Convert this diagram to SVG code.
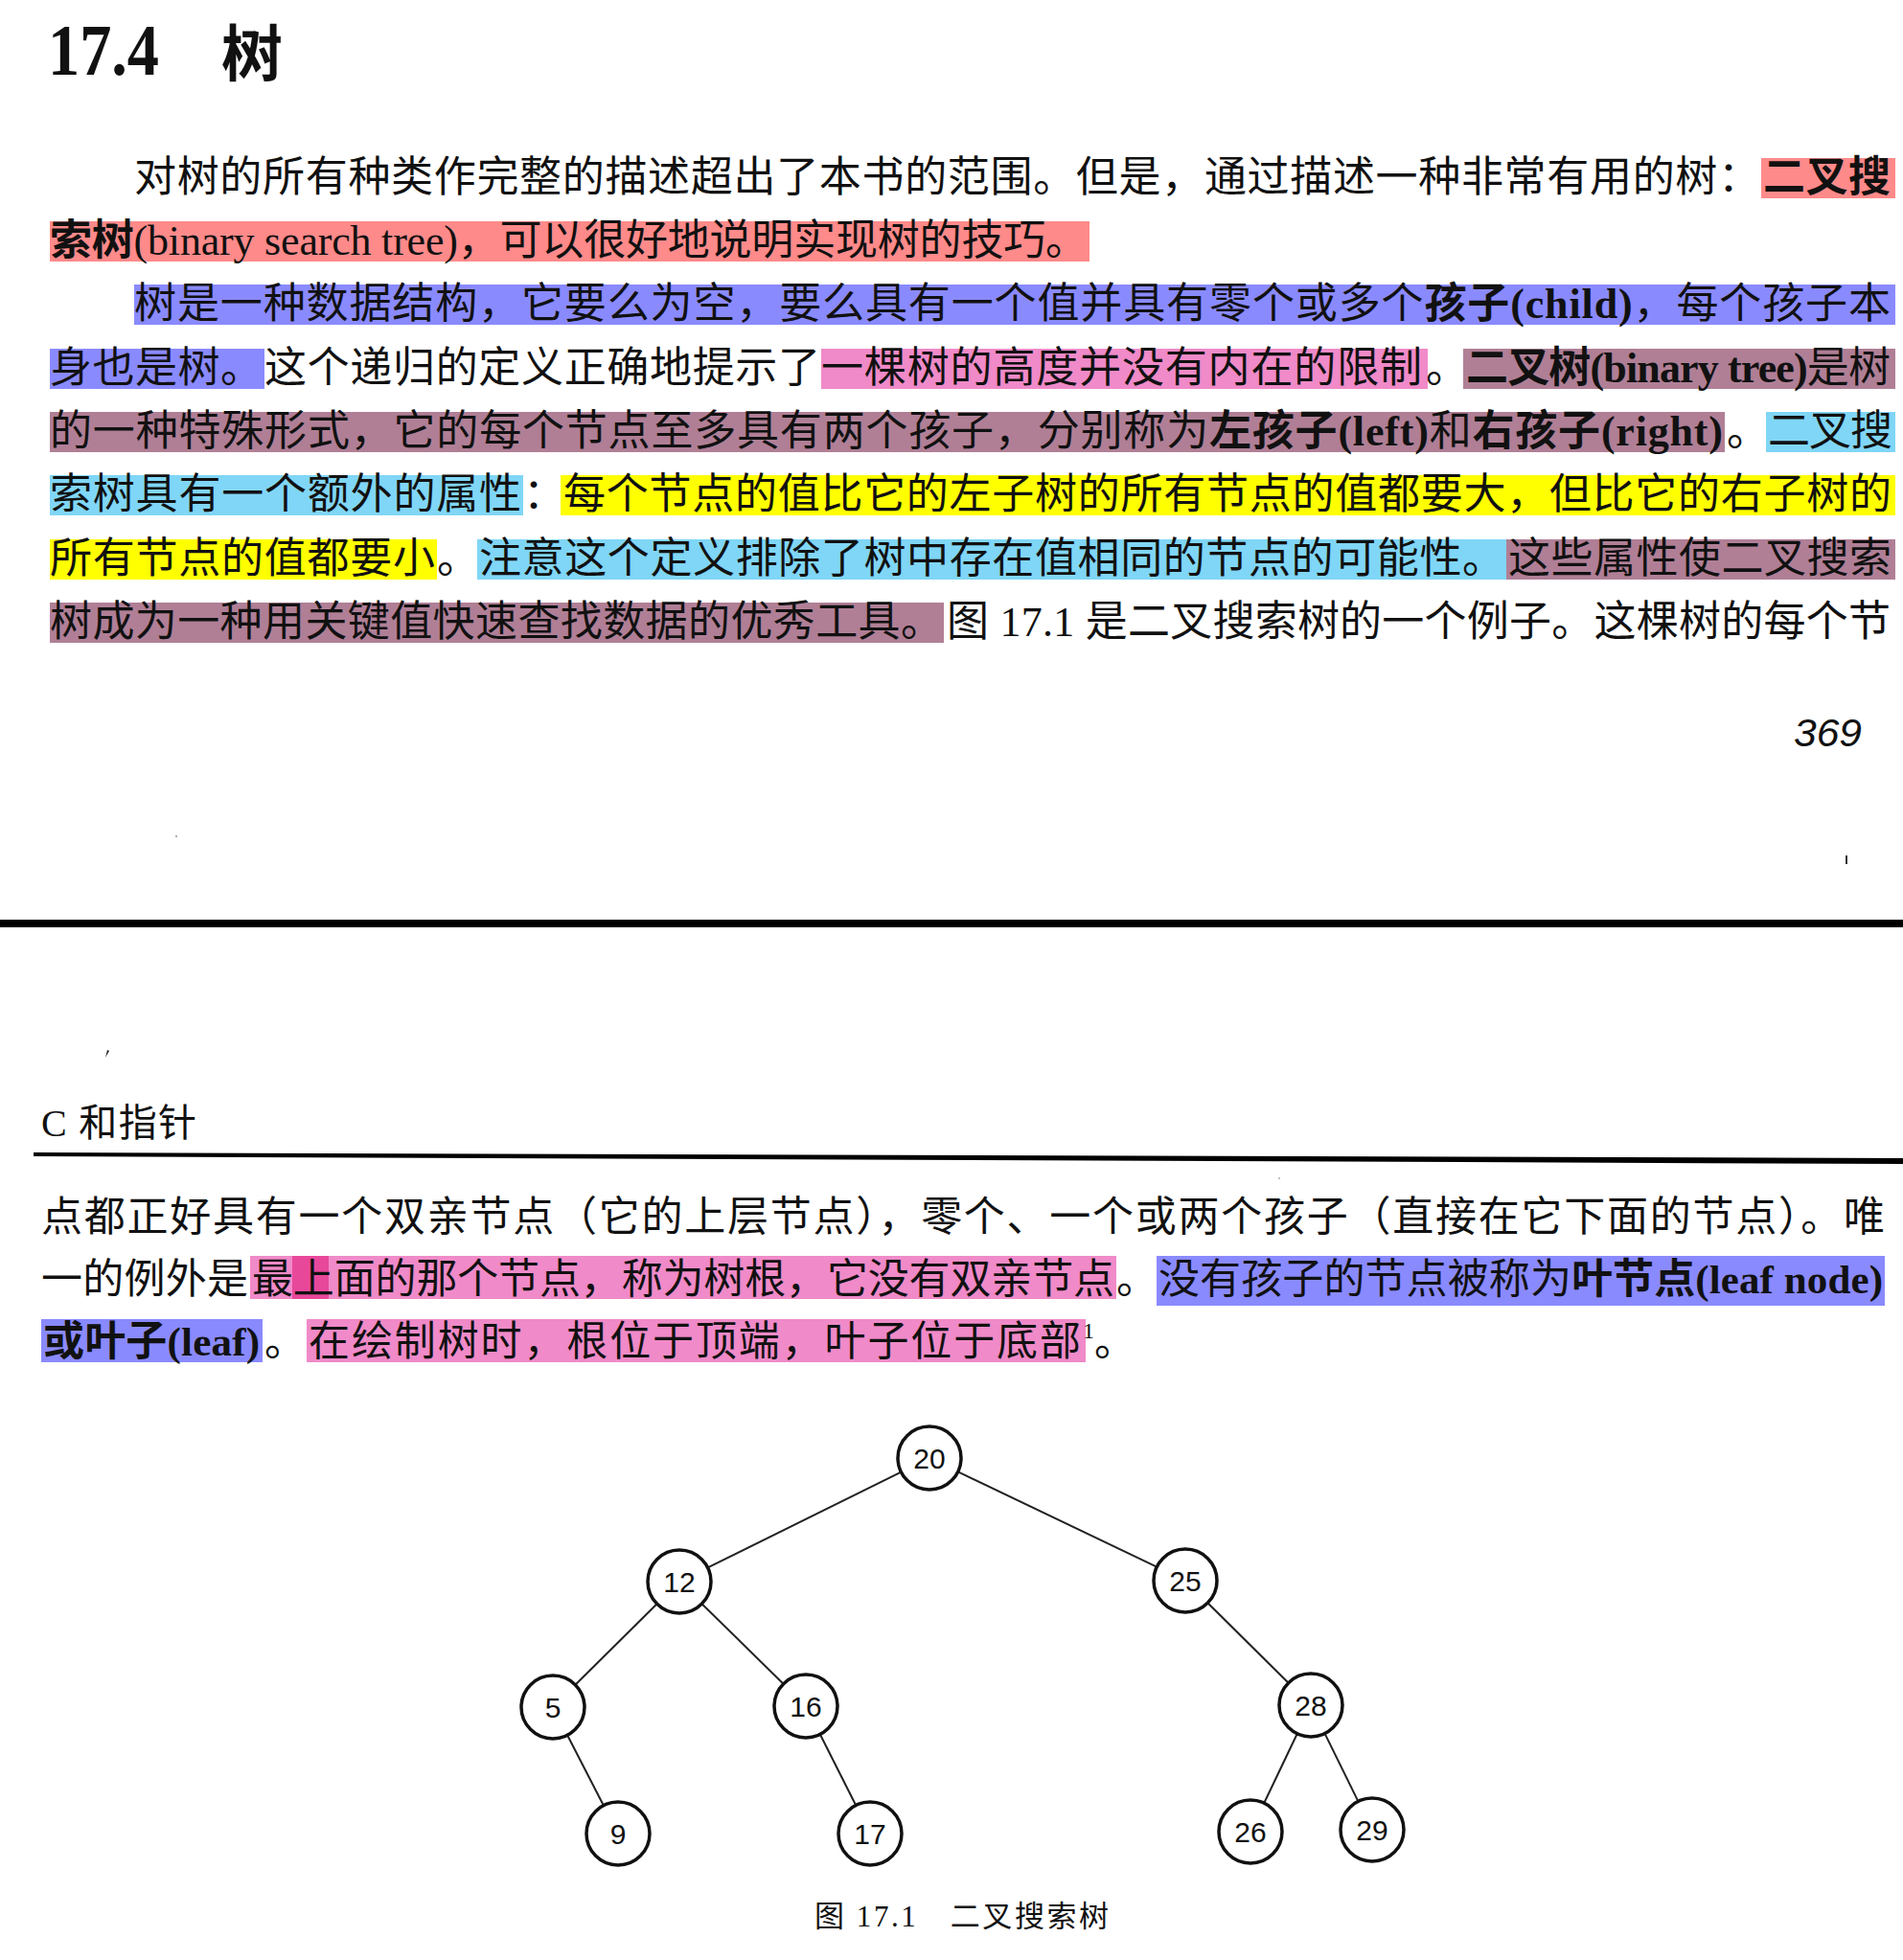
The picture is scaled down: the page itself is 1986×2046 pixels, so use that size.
<svg xmlns="http://www.w3.org/2000/svg" width="1986" height="2046" viewBox="0 0 1986 2046">
<style>
.t{font-family:"Liberation Serif","Noto Sans CJK SC",serif;font-size:44px;fill:#111}
.p2{font-size:43px}
.b{font-weight:bold}
.red{fill:#ff8a8a}.blue{fill:#8a8aff}.pink{fill:#f08ac8}.mauve{fill:#b07f96}.cyan{fill:#80d6f6}.yel{fill:#ffff00}.mag{fill:#e8489a}
.node circle{fill:#fff;stroke:#111;stroke-width:3.5}
.node text{font-family:"Liberation Sans",Arial,sans-serif;font-size:30px;fill:#111;text-anchor:middle}
.edge{stroke:#222;stroke-width:2;fill:none}
</style>
<rect x="0" y="0" width="1986" height="2046" fill="#fff"/>

<g id="title">
<text class="t b" x="50" y="78" style="font-size:77px" textLength="116" lengthAdjust="spacingAndGlyphs">17.4</text>
<text class="t b" x="231" y="79" style="font-size:64px">树</text>
</g>

<g id="highlights-p1">
<rect class="red" x="1838" y="165" width="140" height="42"/>
<rect class="red" x="52" y="231" width="1085" height="42"/>
<rect class="blue" x="140" y="297" width="1838" height="42"/>
<rect class="blue" x="52" y="364" width="224" height="42"/>
<rect class="pink" x="857" y="364" width="633" height="42"/>
<rect class="mauve" x="1527" y="364" width="451" height="42"/>
<rect class="mauve" x="52" y="430" width="1748" height="42"/>
<rect class="cyan" x="1843" y="430" width="135" height="42"/>
<rect class="cyan" x="52" y="496" width="494" height="42"/>
<rect class="yel" x="585" y="496" width="1393" height="42"/>
<rect class="yel" x="52" y="563" width="404" height="42"/>
<rect class="cyan" x="498" y="563" width="1074" height="42"/>
<rect class="mauve" x="1572" y="563" width="406" height="42"/>
<rect class="mauve" x="52" y="629" width="933" height="42"/>
</g>

<g id="para1">
<text class="t" x="140" y="200" textLength="1697" lengthAdjust="spacing">对树的所有种类作完整的描述超出了本书的范围。但是，通过描述一种非常有用的树：</text>
<text class="t b" x="1840" y="200" textLength="133" lengthAdjust="spacing">二叉搜</text>

<text class="t" x="52" y="266" textLength="1083" lengthAdjust="spacing"><tspan class="b">索树</tspan>(binary search tree)，可以很好地说明实现树的技巧。</text>

<text class="t" x="140" y="332" textLength="1833" lengthAdjust="spacing">树是一种数据结构，它要么为空，要么具有一个值并具有零个或多个<tspan class="b">孩子(child)</tspan>，每个孩子本</text>

<text class="t" x="52" y="399" textLength="222" lengthAdjust="spacing">身也是树。</text>
<text class="t" x="276" y="399" textLength="580" lengthAdjust="spacing">这个递归的定义正确地提示了</text>
<text class="t" x="857" y="399" textLength="627" lengthAdjust="spacing">一棵树的高度并没有内在的限制</text>
<text class="t" x="1488" y="399">。</text>
<text class="t" x="1530" y="399" textLength="443" lengthAdjust="spacing"><tspan class="b">二叉树(binary tree)</tspan>是树</text>

<text class="t" x="52" y="465" textLength="1746" lengthAdjust="spacing">的一种特殊形式，它的每个节点至多具有两个孩子，分别称为<tspan class="b">左孩子(left)</tspan>和<tspan class="b">右孩子(right)</tspan></text>
<text class="t" x="1802" y="465">。</text>
<text class="t" x="1845" y="465" textLength="130" lengthAdjust="spacing">二叉搜</text>

<text class="t" x="52" y="531" textLength="492" lengthAdjust="spacing">索树具有一个额外的属性</text>
<text class="t" x="546" y="531">：</text>
<text class="t" x="588" y="531" textLength="1386" lengthAdjust="spacing">每个节点的值比它的左子树的所有节点的值都要大，但比它的右子树的</text>

<text class="t" x="52" y="598" textLength="402" lengthAdjust="spacing">所有节点的值都要小</text>
<text class="t" x="456" y="598">。</text>
<text class="t" x="500" y="598" textLength="1070" lengthAdjust="spacing">注意这个定义排除了树中存在值相同的节点的可能性。</text>
<text class="t" x="1574" y="598" textLength="400" lengthAdjust="spacing">这些属性使二叉搜索</text>

<text class="t" x="52" y="664" textLength="932" lengthAdjust="spacing">树成为一种用关键值快速查找数据的优秀工具。</text>
<text class="t" x="988" y="664" textLength="985" lengthAdjust="spacing">图 17.1 是二叉搜索树的一个例子。这棵树的每个节</text>
</g>

<g id="page-number">
<text x="1872" y="779" font-family="Liberation Sans, Arial, sans-serif" font-style="italic" font-size="40" fill="#111" textLength="71" lengthAdjust="spacingAndGlyphs">369</text>
</g>

<g id="marks">
<circle cx="184" cy="873" r="1" fill="#999"/>
<rect x="1926" y="893" width="2" height="9" fill="#333"/>
<path d="M112 1096 L114 1097 L110 1104 Z" fill="#222"/>
<circle cx="1335" cy="1230" r="1" fill="#aaa"/>
</g>

<g id="page-break">
<rect x="0" y="960" width="1986" height="8" fill="#000"/>
</g>

<g id="header">
<text class="t" x="43" y="1186" style="font-size:40px" textLength="162" lengthAdjust="spacing">C 和指针</text>
<polygon points="35,1203 1986,1209 1986,1215 35,1207" fill="#000"/>
</g>

<g id="highlights-p2">
<rect class="pink" x="261" y="1311" width="904" height="45"/>
<rect class="mag" x="305" y="1311" width="38" height="45"/>
<rect class="blue" x="1207" y="1311" width="760" height="52"/>
<rect class="blue" x="43" y="1377" width="231" height="45"/>
<rect class="pink" x="320" y="1377" width="813" height="45"/>
</g>

<g id="para2">
<text class="t p2" x="43" y="1285" textLength="1924" lengthAdjust="spacing">点都正好具有一个双亲节点（它的上层节点），零个、一个或两个孩子（直接在它下面的节点）。唯</text>
<text class="t p2" x="43" y="1350" textLength="216" lengthAdjust="spacing">一的例外是</text>
<text class="t p2" x="263" y="1350" textLength="900" lengthAdjust="spacing">最上面的那个节点，称为树根，它没有双亲节点</text>
<text class="t p2" x="1165" y="1350">。</text>
<text class="t p2" x="1209" y="1350" textLength="756" lengthAdjust="spacing">没有孩子的节点被称为<tspan class="b">叶节点(leaf node)</tspan></text>
<text class="t p2 b" x="45" y="1415" textLength="226" lengthAdjust="spacing">或叶子(leaf)</text>
<text class="t p2" x="276" y="1415">。</text>
<text class="t p2" x="322" y="1415" textLength="806" lengthAdjust="spacing">在绘制树时，根位于顶端，叶子位于底部</text>
<text class="t" x="1130" y="1397" style="font-size:24px">1</text>
<text class="t p2" x="1142" y="1415">。</text>
</g>

<g id="connectors">
<line class="edge" x1="940.4" y1="1536.6" x2="738.6" y2="1636.4"/>
<line class="edge" x1="999.8" y1="1536.3" x2="1207.2" y2="1635.7"/>
<line class="edge" x1="685.6" y1="1674.2" x2="600.4" y2="1758.8"/>
<line class="edge" x1="732.5" y1="1674.2" x2="817.5" y2="1757.8"/>
<line class="edge" x1="1260.4" y1="1673.2" x2="1344.6" y2="1756.8"/>
<line class="edge" x1="592.1" y1="1811.3" x2="629.9" y2="1884.7"/>
<line class="edge" x1="855.9" y1="1810.5" x2="893.2" y2="1884.5"/>
<line class="edge" x1="1353.8" y1="1809.8" x2="1319.2" y2="1882.2"/>
<line class="edge" x1="1382.6" y1="1809.6" x2="1417.4" y2="1880.4"/>
</g>

<g id="node-20" class="node"><circle cx="970" cy="1522" r="33"/><text x="970" y="1533">20</text></g>
<g id="node-12" class="node"><circle cx="709" cy="1651" r="33"/><text x="709" y="1662">12</text></g>
<g id="node-25" class="node"><circle cx="1237" cy="1650" r="33"/><text x="1237" y="1661">25</text></g>
<g id="node-5" class="node"><circle cx="577" cy="1782" r="33"/><text x="577" y="1793">5</text></g>
<g id="node-16" class="node"><circle cx="841" cy="1781" r="33"/><text x="841" y="1792">16</text></g>
<g id="node-28" class="node"><circle cx="1368" cy="1780" r="33"/><text x="1368" y="1791">28</text></g>
<g id="node-9" class="node"><circle cx="645" cy="1914" r="33"/><text x="645" y="1925">9</text></g>
<g id="node-17" class="node"><circle cx="908" cy="1914" r="33"/><text x="908" y="1925">17</text></g>
<g id="node-26" class="node"><circle cx="1305" cy="1912" r="33"/><text x="1305" y="1923">26</text></g>
<g id="node-29" class="node"><circle cx="1432" cy="1910" r="33"/><text x="1432" y="1921">29</text></g>

<g id="caption">
<text class="t" x="850" y="2011" style="font-size:31px" textLength="307" lengthAdjust="spacing">图 17.1　二叉搜索树</text>
</g>
</svg>
